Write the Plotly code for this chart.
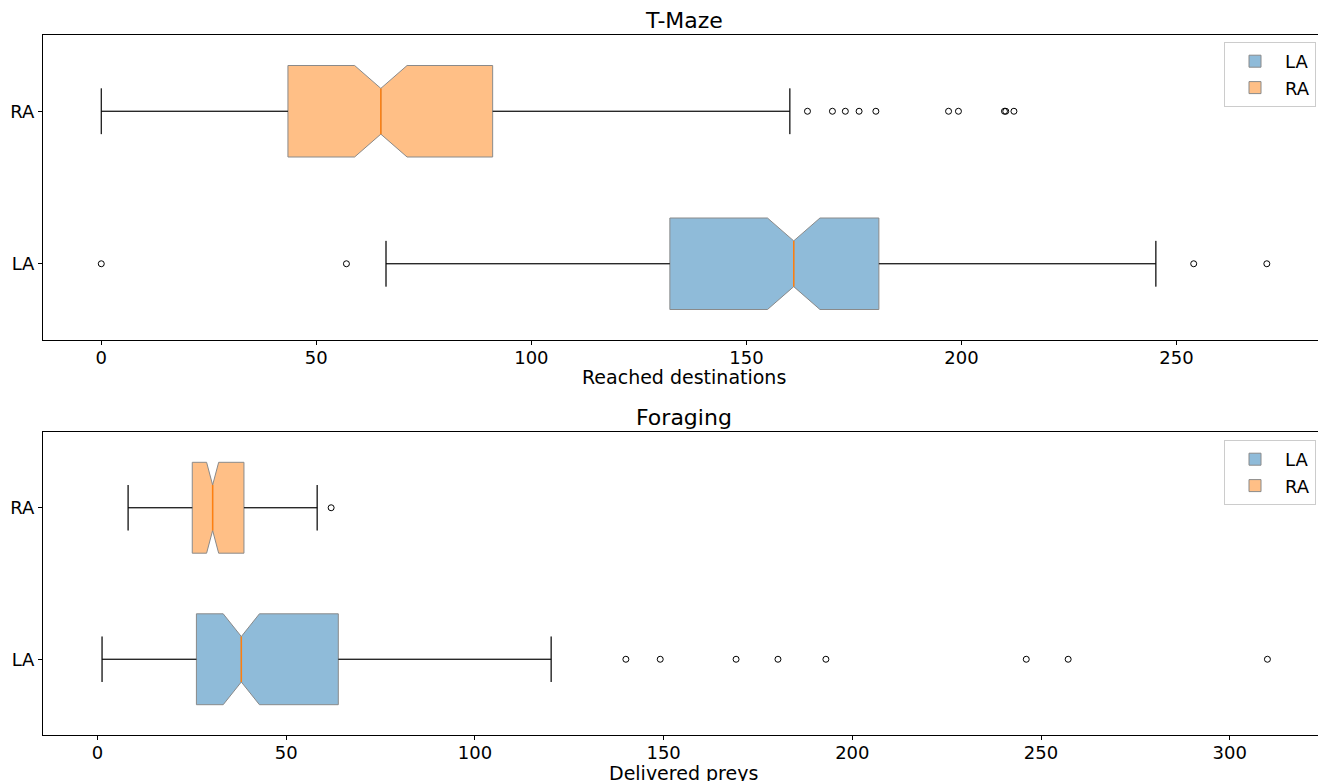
import plotly.graph_objects as go

# ---------------- data ----------------
categories = ["LA", "RA"]

# T-Maze: reached destinations
tm_q1 = [132.2, 43.4]
tm_median = [161.0, 65.0]
tm_q3 = [180.8, 91.0]
tm_low = [66.2, 0.0]
tm_high = [245.2, 160.1]
tm_notch = [6.1, 6.1]
tm_out_LA = [0.0, 57.0, 254.0, 271.0]
tm_out_RA = [164.2, 170.0, 173.0, 176.2, 180.1, 197.0, 199.3, 210.0, 210.3, 212.2]

# Foraging: delivered preys
fo_q1 = [26.2, 25.1]
fo_median = [38.1, 30.5]
fo_q3 = [63.8, 38.8]
fo_low = [1.2, 8.1]
fo_high = [120.2, 58.2]
fo_notch = [4.8, 1.6]
fo_out_LA = [140.0, 149.1, 169.2, 180.3, 193.0, 246.1, 257.2, 310.0]
fo_out_RA = [61.9]

fills = ["rgba(31,119,180,0.5)", "rgba(255,127,14,0.5)"]
edge = "#8a8a8a"
median_color = "#ff7f0e"
BOXW = 0.6
FONT = "DejaVu Sans"

fig = go.Figure()


def add_panel(q1, med, q3, lo, hi, notch, outs, xa, ya, legend):
    for i, cat in enumerate(categories):
        fig.add_trace(go.Box(
            orientation="h", y=[i], q1=[q1[i]], median=[med[i]], q3=[q3[i]],
            lowerfence=[lo[i]], upperfence=[hi[i]], notchspan=[notch[i]],
            notched=True, notchwidth=0.25, width=BOXW, whiskerwidth=0.5,
            fillcolor=fills[i], line=dict(color=edge, width=1),
            boxpoints=False, name=cat, legendgroup=cat, xaxis=xa, yaxis=ya,
            legend=legend, hoverinfo="skip",
        ))
    for i, cat in enumerate(categories):
        # whiskers and caps in black
        fig.add_trace(go.Scatter(
            x=[lo[i], q1[i], None, q3[i], hi[i], None, lo[i], lo[i], None, hi[i], hi[i]],
            y=[i, i, None, i, i, None, i - BOXW / 4, i + BOXW / 4, None, i - BOXW / 4, i + BOXW / 4],
            mode="lines", line=dict(color="black", width=1), showlegend=False,
            xaxis=xa, yaxis=ya, hoverinfo="skip",
        ))
        # median in orange
        fig.add_trace(go.Scatter(
            x=[med[i], med[i]], y=[i - BOXW / 4, i + BOXW / 4],
            mode="lines", line=dict(color=median_color, width=1.5), showlegend=False,
            xaxis=xa, yaxis=ya, hoverinfo="skip",
        ))
        # outliers
        fig.add_trace(go.Scatter(
            x=outs[i], y=[i] * len(outs[i]), mode="markers",
            marker=dict(symbol="circle-open", size=6, color="black", line=dict(width=1)),
            showlegend=False, xaxis=xa, yaxis=ya, hoverinfo="skip",
        ))


add_panel(tm_q1, tm_median, tm_q3, tm_low, tm_high, tm_notch,
          [tm_out_LA, tm_out_RA], "x", "y", "legend")
add_panel(fo_q1, fo_median, fo_q3, fo_low, fo_high, fo_notch,
          [fo_out_LA, fo_out_RA], "x2", "y2", "legend2")

W, H = 1318, 781
ML, MR, MT, MB = 43, 0, 35, 46
PH = H - MT - MB
PW = W - ML - MR


def py(pix):
    return (H - MB - pix) / PH


def px(pix):
    return (pix - ML) / PW


xcommon = dict(showgrid=False, zeroline=False, showline=True, linecolor="black",
               linewidth=1, mirror=True, ticks="outside", ticklen=4, tickcolor="black",
               ticklabelstandoff=-3,
               tickfont=dict(family=FONT, size=18, color="black"), dtick=50)
ycommon = dict(showgrid=False, zeroline=False, showline=True, linecolor="black",
               linewidth=1, mirror=False, ticks="outside", ticklen=4, tickcolor="black",
               tickfont=dict(family=FONT, size=18, color="black"),
               tickvals=[0, 1], ticktext=categories, range=[-0.5, 1.5])

legcommon = dict(xanchor="right", yanchor="top", bgcolor="white",
                 bordercolor="#cccccc", borderwidth=1, tracegroupgap=0, itemwidth=50,
                 font=dict(family=FONT, size=18, color="black"), traceorder="grouped")

fig.update_layout(
    width=W, height=H, margin=dict(l=ML, r=MR, t=MT, b=MB),
    plot_bgcolor="white", paper_bgcolor="white", boxmode="overlay",
    font=dict(family=FONT, color="black"),
    xaxis=dict(domain=[0, 1], anchor="y", range=[-13.55, 282.9], **xcommon),
    yaxis=dict(domain=[py(340), 1], anchor="x", **ycommon),
    xaxis2=dict(domain=[0, 1], anchor="y2", range=[-14.45, 323.4], **xcommon),
    yaxis2=dict(domain=[0, py(432)], anchor="x2", **ycommon),
    legend=dict(x=px(1316), y=py(42), **legcommon),
    legend2=dict(x=px(1316), y=py(440), **legcommon),
    annotations=[
        dict(text="T-Maze", x=px(684), y=py(20), xref="paper", yref="paper",
             showarrow=False, xanchor="center", yanchor="middle",
             font=dict(family=FONT, size=22, color="black")),
        dict(text="Reached destinations", x=px(684), y=py(377), xref="paper", yref="paper",
             showarrow=False, xanchor="center", yanchor="middle",
             font=dict(family=FONT, size=19, color="black")),
        dict(text="Foraging", x=px(684), y=py(417), xref="paper", yref="paper",
             showarrow=False, xanchor="center", yanchor="middle",
             font=dict(family=FONT, size=22, color="black")),
        dict(text="Delivered preys", x=px(684), y=py(773), xref="paper", yref="paper",
             showarrow=False, xanchor="center", yanchor="middle",
             font=dict(family=FONT, size=19, color="black")),
    ],
)

fig.write_html(
    "out.html",
    config={"displayModeBar": False},
    post_script="document.body.style.margin='0';document.body.style.overflow='hidden';",
)
